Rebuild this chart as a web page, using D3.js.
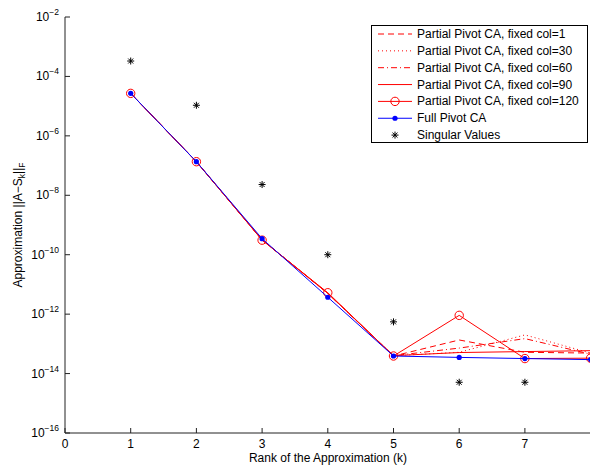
<!DOCTYPE html>
<html><head><meta charset="utf-8">
<script src="https://cdn.jsdelivr.net/npm/d3@7"></script>
<style>body{margin:0;background:#fff;} svg{display:block;} text{font-family:"Liberation Sans",Arial,Helvetica,sans-serif;}</style>
</head><body>
<svg id="chart" width="590" height="469"></svg>
<script>
const ranks = [1,2,3,4,5,6,7,8];
const svRanks = [1,2,3,4,5,6,7];
const col1   = [2.69e-5,1.35e-7,3.16e-10,5.0e-12,3.9e-14,1.35e-13,5.2e-14,4.9e-14];
const col30  = [2.69e-5,1.35e-7,3.16e-10,5.0e-12,4.0e-14,5.2e-14,2.0e-13,4.9e-14];
const col60  = [2.69e-5,1.35e-7,3.16e-10,5.0e-12,4.0e-14,7.2e-14,1.5e-13,4.5e-14];
const col90  = [2.69e-5,1.35e-7,3.16e-10,5.0e-12,4.0e-14,5.1e-14,5.5e-14,5.9e-14];
const col120 = [2.69e-5,1.35e-7,3.09e-10,5.25e-12,3.9e-14,9.1e-13,3.2e-14,3.3e-14];
const fullPivot = [2.69e-5,1.35e-7,3.47e-10,3.7e-12,3.9e-14,3.5e-14,3.2e-14,2.95e-14];
const singularValues = [3.3e-4,1.07e-5,2.3e-8,1.0e-10,5.5e-13,5.1e-15,5.1e-15];
const xTicks = [0,1,2,3,4,5,6,7];
const yTickExps = [-2,-4,-6,-8,-10,-12,-14,-16];
const legendLabels = ["Partial Pivot CA, fixed col=1","Partial Pivot CA, fixed col=30","Partial Pivot CA, fixed col=60","Partial Pivot CA, fixed col=90","Partial Pivot CA, fixed col=120","Full Pivot CA","Singular Values"];

const svg = d3.select("#chart");
const L = 65, R = 590.6, T = 17, B = 433;
const x = d3.scaleLinear().domain([0,8]).range([L,R]);
const y = d3.scaleLog().domain([1e-16,1e-2]).range([B,T]);

const series = [
  {vals: col1, dash: "6,4", marker: null},
  {vals: col30, dash: "1,3", marker: null},
  {vals: col60, dash: "6,3,1,3", marker: null},
  {vals: col90, dash: null, marker: null},
  {vals: col120, dash: null, marker: "circle"},
];
const line = d3.line().x((d,i)=>x(ranks[i])).y(d=>y(d));

const FS = 12;
const axisColor = "#222";
svg.append("line").attr("x1",L).attr("x2",590).attr("y1",B).attr("y2",B).attr("stroke",axisColor).attr("stroke-width",1);
svg.append("line").attr("x1",L).attr("x2",L).attr("y1",T).attr("y2",B).attr("stroke",axisColor).attr("stroke-width",1);
xTicks.forEach(t=>{
  svg.append("line").attr("x1",x(t)).attr("x2",x(t)).attr("y1",B).attr("y2",B-5).attr("stroke",axisColor);
  svg.append("text").attr("x",x(t)).attr("y",B+15).attr("text-anchor","middle").attr("font-size",FS).text(t);
});
yTickExps.forEach(e=>{
  const yy = y(Math.pow(10,e));
  svg.append("line").attr("x1",L).attr("x2",L+5).attr("y1",yy).attr("y2",yy).attr("stroke",axisColor);
  const tx = svg.append("text").attr("x",59).attr("y",yy+4).attr("text-anchor","end").attr("font-size",FS);
  tx.append("tspan").text("10");
  tx.append("tspan").attr("dy",-6).attr("font-size",8.5).text("−"+Math.abs(e));
});
svg.append("text").attr("x",328).attr("y",462).attr("text-anchor","middle").attr("font-size",FS).text("Rank of the Approximation (k)");
const yl = svg.append("text").attr("transform","translate(22,225) rotate(-90)").attr("text-anchor","middle").attr("font-size",FS);
yl.append("tspan").text("Approximation ||A−S");
yl.append("tspan").attr("dy",3).attr("font-size",8.5).text("k");
yl.append("tspan").attr("dy",-3).text("||");
yl.append("tspan").attr("dy",3).attr("font-size",8.5).text("F");

series.forEach(s=>{
  svg.append("path").attr("d",line(s.vals)).attr("fill","none").attr("stroke","#ff0000").attr("stroke-width",1)
    .attr("stroke-dasharray",s.dash);
  if(s.marker==="circle"){
    svg.selectAll(null).data(s.vals).enter().append("circle")
      .attr("cx",(d,i)=>x(ranks[i])).attr("cy",d=>y(d)).attr("r",4.2)
      .attr("fill","none").attr("stroke","#ff0000").attr("stroke-width",1);
  }
});
svg.append("path").attr("d",line(fullPivot)).attr("fill","none").attr("stroke","#0000ff").attr("stroke-width",1);
svg.selectAll(null).data(fullPivot).enter().append("circle")
  .attr("cx",(d,i)=>x(ranks[i])).attr("cy",d=>y(d)).attr("r",2.6).attr("fill","#0000ff");

function asterisk(cx,cy,r){
  const a = r*0.707;
  return `M${cx-r},${cy}L${cx+r},${cy}M${cx},${cy-r}L${cx},${cy+r}M${cx-a},${cy-a}L${cx+a},${cy+a}M${cx-a},${cy+a}L${cx+a},${cy-a}`;
}
singularValues.forEach((v,i)=>{
  svg.append("path").attr("d",asterisk(x(svRanks[i]),y(v),3.5)).attr("stroke","#000").attr("stroke-width",1).attr("fill","none");
});

const lg = svg.append("g");
lg.append("rect").attr("x",371.5).attr("y",25.5).attr("width",216).attr("height",117).attr("fill","#fff").attr("stroke","#000").attr("stroke-width",1);
const ly0 = 34, lstep = 16.85;
legendLabels.forEach((lab,i)=>{
  const yy = ly0 + i*lstep;
  if(i<5){
    lg.append("line").attr("x1",378).attr("x2",412).attr("y1",yy).attr("y2",yy).attr("stroke","#ff0000")
      .attr("stroke-dasharray",series[i].dash);
    if(i===4) lg.append("circle").attr("cx",395).attr("cy",yy).attr("r",4.2).attr("fill","none").attr("stroke","#ff0000");
  } else if(i===5){
    lg.append("line").attr("x1",378).attr("x2",412).attr("y1",yy).attr("y2",yy).attr("stroke","#0000ff");
    lg.append("circle").attr("cx",395).attr("cy",yy).attr("r",2.6).attr("fill","#0000ff");
  } else {
    lg.append("path").attr("d",asterisk(395,yy,3.5)).attr("stroke","#000").attr("fill","none");
  }
  lg.append("text").attr("x",417).attr("y",yy+4).attr("font-size",FS).text(lab);
});
</script>
</body></html>
